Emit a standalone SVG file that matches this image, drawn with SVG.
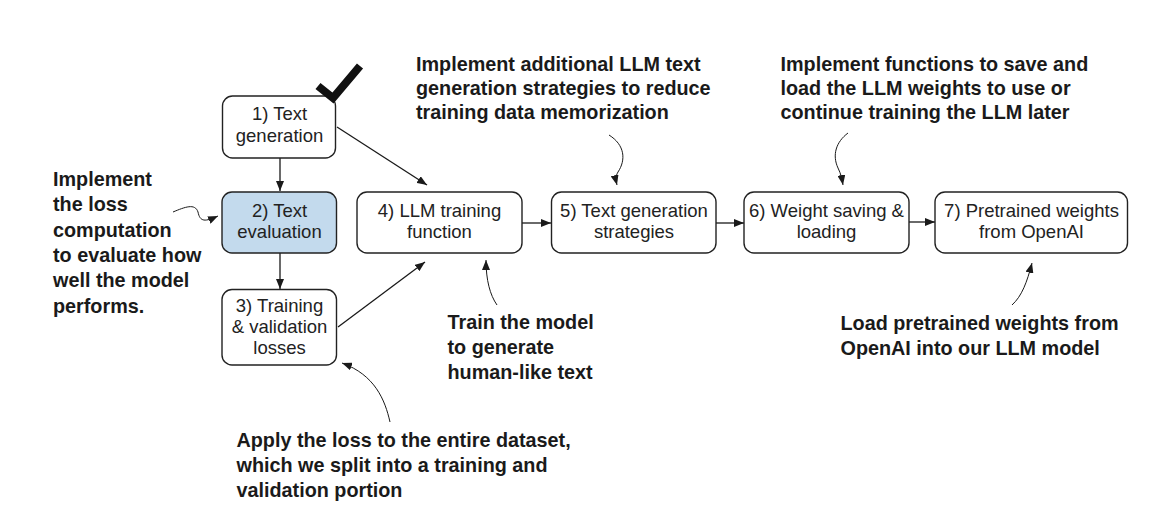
<svg xmlns="http://www.w3.org/2000/svg" width="1166" height="518" viewBox="0 0 1166 518">
<style>
.box{fill:#ffffff;stroke:#222;stroke-width:1.4}
.hl{fill:#c3daed}
.nt{font-family:"Liberation Sans",Arial,sans-serif;font-size:18.5px;fill:#222;text-anchor:middle}
.an{font-family:"Liberation Sans",Arial,sans-serif;font-size:19.8px;font-weight:bold;fill:#1a1a1a}
.ln{fill:none;stroke:#1a1a1a;stroke-width:1.3}
.cv{fill:none;stroke:#1a1a1a;stroke-width:1}
</style>
<defs>
<marker id="ah" viewBox="0 0 10 8" refX="10" refY="4" markerWidth="10" markerHeight="8" markerUnits="userSpaceOnUse" orient="auto">
<path d="M0,0 L10,4 L0,8 Z" fill="#1a1a1a"/>
</marker>
<marker id="ahc" viewBox="0 0 10 8" refX="10" refY="4" markerWidth="10" markerHeight="8" markerUnits="userSpaceOnUse" orient="auto">
<path d="M0,0 L10,4 L0,8 Z" fill="#1a1a1a"/>
</marker>
</defs>
<rect width="1166" height="518" fill="#ffffff"/>

<g id="connectors">
<line class="ln" x1="280" y1="158" x2="280" y2="191" marker-end="url(#ah)"/>
<line class="ln" x1="280" y1="253" x2="280" y2="289" marker-end="url(#ah)"/>
<line class="ln" x1="337" y1="127" x2="427" y2="185" marker-end="url(#ah)"/>
<line class="ln" x1="338" y1="327" x2="425" y2="262" marker-end="url(#ah)"/>
<line class="ln" x1="522" y1="223" x2="551" y2="223" marker-end="url(#ah)"/>
<line class="ln" x1="716" y1="223" x2="744" y2="223" marker-end="url(#ah)"/>
<line class="ln" x1="909" y1="222" x2="935" y2="222" marker-end="url(#ah)"/>
<path class="cv" d="M173,212 C185,207 195,203 198,212 C200,222 205,222 218,216" marker-end="url(#ahc)"/>
<path class="cv" d="M609,135 C625,145 626,160 618,172 C615,177 616,181 617,185" marker-end="url(#ahc)"/>
<path class="cv" d="M848,133 C836,142 832,155 838,168 C841,174 842,179 843,185" marker-end="url(#ahc)"/>
<path class="cv" d="M497,305 C490,295 486,280 486,260" marker-end="url(#ahc)"/>
<path class="cv" d="M1012,305 C1022,296 1027,282 1032,263" marker-end="url(#ahc)"/>
<path class="cv" d="M390,422 C385,400 375,375 342,363" marker-end="url(#ahc)"/>
</g>

<g id="n1">
<rect class="box" x="222.5" y="96" width="113" height="62" rx="10"/>
<text class="nt" x="279.5" y="120">1) Text</text>
<text class="nt" x="279.5" y="141.7">generation</text>
</g>
<g id="check">
<polyline points="318,86 333,98 360,66" fill="none" stroke="#111" stroke-width="8" stroke-linejoin="miter"/>
</g>
<g id="n2">
<rect class="box hl" x="222" y="192" width="114.5" height="61" rx="10"/>
<text class="nt" x="279.5" y="216.7">2) Text</text>
<text class="nt" x="279.5" y="238.3">evaluation</text>
</g>
<g id="n3">
<rect class="box" x="222" y="289.5" width="114.5" height="75.5" rx="10"/>
<text class="nt" x="279.5" y="311.7">3) Training</text>
<text class="nt" x="279.5" y="333">&amp; validation</text>
<text class="nt" x="279.5" y="354">losses</text>
</g>
<g id="n4">
<rect class="box" x="357" y="192" width="165" height="61" rx="10"/>
<text class="nt" x="439.5" y="216.7">4) LLM training</text>
<text class="nt" x="439.5" y="238">function</text>
</g>
<g id="n5">
<rect class="box" x="551.5" y="192" width="164.5" height="61" rx="10"/>
<text class="nt" x="634" y="216.7">5) Text generation</text>
<text class="nt" x="634" y="238">strategies</text>
</g>
<g id="n6">
<rect class="box" x="744" y="192" width="165" height="61" rx="10"/>
<text class="nt" x="826.5" y="216.7">6) Weight saving &amp;</text>
<text class="nt" x="826.5" y="238">loading</text>
</g>
<g id="n7">
<rect class="box" x="935" y="192" width="192.5" height="61" rx="10"/>
<text class="nt" x="1031.5" y="216.7">7) Pretrained weights</text>
<text class="nt" x="1031.5" y="238">from OpenAI</text>
</g>

<g id="ann-left">
<text class="an" x="53" y="186">Implement</text>
<text class="an" x="53" y="211.3">the loss</text>
<text class="an" x="53" y="236.6">computation</text>
<text class="an" x="53" y="261.9">to evaluate how</text>
<text class="an" x="53" y="287.2">well the model</text>
<text class="an" x="53" y="312.5">performs.</text>
</g>
<g id="ann-top-mid">
<text class="an" x="416" y="70.5">Implement additional LLM text</text>
<text class="an" x="416" y="94.5">generation strategies to reduce</text>
<text class="an" x="416" y="118.5">training data memorization</text>
</g>
<g id="ann-top-right">
<text class="an" x="780.5" y="70.5">Implement functions to save and</text>
<text class="an" x="780.5" y="94.5">load the LLM weights to use or</text>
<text class="an" x="780.5" y="118.5">continue training the LLM later</text>
</g>
<g id="ann-train">
<text class="an" x="447.5" y="328.5">Train the model</text>
<text class="an" x="447.5" y="353.5">to generate</text>
<text class="an" x="447.5" y="378.5">human-like text</text>
</g>
<g id="ann-load">
<text class="an" x="840.5" y="329.5">Load pretrained weights from</text>
<text class="an" x="840.5" y="354.5">OpenAI into our LLM model</text>
</g>
<g id="ann-apply">
<text class="an" x="236.5" y="446.5">Apply the loss to the entire dataset,</text>
<text class="an" x="236.5" y="471.5">which we split into a training and</text>
<text class="an" x="236.5" y="496.5">validation portion</text>
</g>
</svg>
